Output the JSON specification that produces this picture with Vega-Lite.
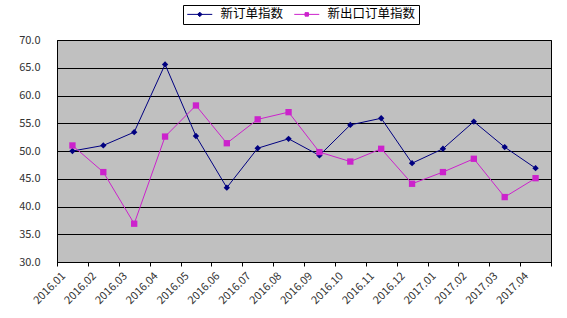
{
  "$schema": "https://vega.github.io/schema/vega-lite/v6.json",
  "width": 494,
  "height": 222,
  "autosize": "none",
  "padding": {"left": 57, "top": 40, "right": 16, "bottom": 56},
  "background": "white",
  "data": {"values": [
    {"month": "2016.01", "series": "新订单指数", "value": 50.0},
    {"month": "2016.02", "series": "新订单指数", "value": 51.0},
    {"month": "2016.03", "series": "新订单指数", "value": 53.4},
    {"month": "2016.04", "series": "新订单指数", "value": 65.6},
    {"month": "2016.05", "series": "新订单指数", "value": 52.7},
    {"month": "2016.06", "series": "新订单指数", "value": 43.4},
    {"month": "2016.07", "series": "新订单指数", "value": 50.5},
    {"month": "2016.08", "series": "新订单指数", "value": 52.2},
    {"month": "2016.09", "series": "新订单指数", "value": 49.2},
    {"month": "2016.10", "series": "新订单指数", "value": 54.7},
    {"month": "2016.11", "series": "新订单指数", "value": 55.9},
    {"month": "2016.12", "series": "新订单指数", "value": 47.8},
    {"month": "2017.01", "series": "新订单指数", "value": 50.4},
    {"month": "2017.02", "series": "新订单指数", "value": 55.3},
    {"month": "2017.03", "series": "新订单指数", "value": 50.7},
    {"month": "2017.04", "series": "新订单指数", "value": 46.9},
    {"month": "2016.01", "series": "新出口订单指数", "value": 51.0},
    {"month": "2016.02", "series": "新出口订单指数", "value": 46.2},
    {"month": "2016.03", "series": "新出口订单指数", "value": 36.9},
    {"month": "2016.04", "series": "新出口订单指数", "value": 52.6},
    {"month": "2016.05", "series": "新出口订单指数", "value": 58.2},
    {"month": "2016.06", "series": "新出口订单指数", "value": 51.4},
    {"month": "2016.07", "series": "新出口订单指数", "value": 55.7},
    {"month": "2016.08", "series": "新出口订单指数", "value": 57.0},
    {"month": "2016.09", "series": "新出口订单指数", "value": 49.8},
    {"month": "2016.10", "series": "新出口订单指数", "value": 48.1},
    {"month": "2016.11", "series": "新出口订单指数", "value": 50.4},
    {"month": "2016.12", "series": "新出口订单指数", "value": 44.1},
    {"month": "2017.01", "series": "新出口订单指数", "value": 46.2},
    {"month": "2017.02", "series": "新出口订单指数", "value": 48.6},
    {"month": "2017.03", "series": "新出口订单指数", "value": 41.7},
    {"month": "2017.04", "series": "新出口订单指数", "value": 45.1}
  ]},
  "encoding": {
    "x": {
      "field": "month", "type": "ordinal", "sort": null,
      "scale": {"type": "band", "paddingInner": 0, "paddingOuter": 0},
      "axis": {
        "title": null, "labelAngle": -45, "labelAlign": "right", "labelBaseline": "middle",
        "tickBand": "extent", "tickSize": 4, "tickColor": "black", "domainColor": "black",
        "labelPadding": 8, "labelOffset": -9,
        "labelFont": "Noto Sans CJK SC", "labelFontSize": 11, "labelColor": "#333333", "grid": false
      }
    },
    "y": {
      "field": "value", "type": "quantitative",
      "scale": {"domain": [30, 70], "nice": false, "zero": false},
      "axis": {
        "title": null, "values": [30, 35, 40, 45, 50, 55, 60, 65, 70], "format": ".1f",
        "grid": true, "gridColor": "black", "gridOpacity": 1, "gridWidth": 1,
        "ticks": false, "labelPadding": 17, "domainColor": "black",
        "labelFont": "Noto Sans CJK SC", "labelFontSize": 11, "labelColor": "#333333"
      }
    },
    "color": {
      "field": "series", "type": "nominal",
      "scale": {"domain": ["新订单指数", "新出口订单指数"], "range": ["#000080", "#cc22cc"]},
      "legend": {
        "orient": "none", "legendX": 126, "legendY": -35, "direction": "horizontal",
        "title": null, "strokeColor": "black", "fillColor": "white", "padding": 3,
        "symbolSize": 100, "symbolStrokeWidth": 1, "labelOffset": 22, "columnPadding": 8,
        "labelFont": "Noto Sans CJK SC", "labelFontSize": 12.5, "labelColor": "black",
        "encode": {"symbols": {"update": {
          "shape": {"signal": "datum.value === '新订单指数' ? 'M-1,0L4,0M1.5,-0.45L1.95,0L1.5,0.45L1.05,0Z' : 'M-1,0L4,0M1.15,-0.35L1.85,-0.35L1.85,0.35L1.15,0.35Z'"},
          "fill": {"signal": "datum.value === '新订单指数' ? '#000080' : '#cc22cc'"},
          "stroke": {"signal": "datum.value === '新订单指数' ? '#000080' : '#cc22cc'"}
        }}}
      }
    }
  },
  "layer": [
    {"mark": {"type": "line", "strokeWidth": 1}},
    {
      "mark": {"type": "point", "filled": true, "opacity": 1, "size": 40},
      "encoding": {
        "shape": {"condition": {"test": "datum.series === '新订单指数'", "value": "diamond"}, "value": "square"}
      }
    }
  ],
  "config": {
    "view": {"fill": "#c0c0c0", "stroke": "black", "strokeWidth": 1}
  }
}
